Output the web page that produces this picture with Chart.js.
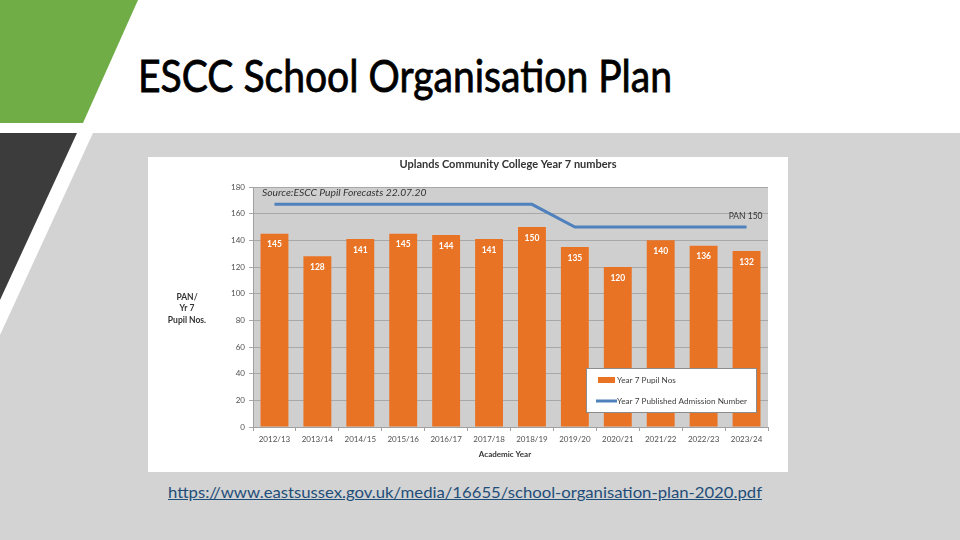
<!DOCTYPE html>
<html>
<head>
<meta charset="utf-8">
<script src="https://cdn.jsdelivr.net/npm/chart.js@4.4.1/dist/chart.umd.min.js"></script>
<style>
  html, body { margin: 0; padding: 0; }
  body { width: 960px; height: 540px; position: relative; overflow: hidden; background: #ffffff; font-family: Lato, "Open Sans", sans-serif; }
  #deco { position: absolute; left: 0; top: 0; }
  #title { position: absolute; left: 138px; top: 53px; font-size: 44px; line-height: 44px; color: #000; white-space: nowrap; transform-origin: 0 0; font-family: Lato, sans-serif; -webkit-text-stroke: 0.8px #000; }
  #chartbox { position: absolute; left: 148px; top: 157px; width: 640px; height: 315px; background: #ffffff; }
  #url { position: absolute; left: 168px; top: 483px; font-size: 15px; line-height: 18px; color: #1f4e79; text-decoration: underline; white-space: nowrap; transform-origin: 0 0; font-family: Lato, sans-serif; }
</style>
</head>
<body>
<svg id="deco" width="960" height="540">
  <polygon points="93,133 960,133 960,540 0,540 0,335" fill="#d3d3d3"/>
  <polygon points="0,0 138,0 83,123 0,123" fill="#70ad47"/>
  <polygon points="0,133 77,133 0,300" fill="#3c3c3c"/>
</svg>
<div id="title">ESCC School Organisation Plan</div>
<div id="chartbox"><canvas id="c" width="640" height="315"></canvas></div>
<div id="url">https://www.eastsussex.gov.uk/media/16655/school-organisation-plan-2020.pdf</div>
<script>
const years = ['2012/13','2013/14','2014/15','2015/16','2016/17','2017/18','2018/19','2019/20','2020/21','2021/22','2022/23','2023/24'];
const pupilNos = [145, 128, 141, 145, 144, 141, 150, 135, 120, 140, 136, 132];
const panValues = [167, 167, 167, 167, 167, 167, 167, 150, 150, 150, 150, 150];
const yTicks = [0, 20, 40, 60, 80, 100, 120, 140, 160, 180];
const seriesNames = ['Year 7 Pupil Nos', 'Year 7 Published Admission Number'];
const chartTitle = 'Uplands Community College Year 7 numbers';
const yTitleLines = ['PAN/', 'Yr 7', 'Pupil Nos.'];
const xTitle = 'Academic Year';
const sourceNote = 'Source:ESCC Pupil Forecasts 22.07.20';
const panNote = 'PAN 150';

function fitWidth(id, w) {
  const el = document.getElementById(id);
  const r = el.getBoundingClientRect().width;
  el.style.transform = 'scaleX(' + (w / r) + ')';
}
fitWidth('title', 534);
fitWidth('url', 594);

const FONT = 'Lato, "Open Sans", sans-serif';
const ORANGE = '#e97325';
const BLUE = '#4f81bd';

const decor = {
  id: 'decor',
  beforeDraw(chart) {
    const ctx = chart.ctx, a = chart.chartArea;
    ctx.save();
    ctx.fillStyle = '#cfcfcf';
    ctx.fillRect(a.left, a.top, a.right - a.left, a.bottom - a.top);
    ctx.restore();
  },
  afterDatasetsDraw(chart) {
    const ctx = chart.ctx, a = chart.chartArea;
    const xs = chart.scales.x, ys = chart.scales.y;
    ctx.save();
    // data labels on bars (dataset 1 = bars)
    ctx.fillStyle = '#ffffff';
    ctx.font = 'bold 8.5px ' + FONT;
    ctx.textAlign = 'center';
    ctx.textBaseline = 'middle';
    const meta = chart.getDatasetMeta(1);
    meta.data.forEach((bar, i) => {
      ctx.fillText(String(pupilNos[i]), bar.x, bar.y + 11);
    });
    // source note
    ctx.fillStyle = '#333333';
    ctx.font = 'italic 10.3px ' + FONT;
    ctx.textAlign = 'left';
    ctx.fillText(sourceNote, a.left + 9, a.top + 6);
    // PAN note
    ctx.font = '8.5px ' + FONT;
    ctx.textAlign = 'right';
    ctx.fillText(panNote, xs.getPixelForValue(11) + 16, ys.getPixelForValue(158));
    // titles
    ctx.fillStyle = '#333333';
    ctx.font = 'bold 11px ' + FONT;
    ctx.textAlign = 'center';
    ctx.fillText(chartTitle, 360, 7);
    ctx.font = 'bold 8.5px ' + FONT;
    yTitleLines.forEach((t, i) => ctx.fillText(t, 39, 140 + i * 11.5));
    ctx.font = 'bold 8px ' + FONT;
    ctx.fillText(xTitle, 357, 297);
    // legend
    const lx = 438, ly = 211, lw = 170, lh = 44;
    ctx.fillStyle = '#ffffff';
    ctx.fillRect(lx, ly, lw, lh);
    ctx.strokeStyle = '#8c8c8c';
    ctx.lineWidth = 1;
    ctx.strokeRect(lx + 0.5, ly + 0.5, lw, lh);
    ctx.fillStyle = ORANGE;
    ctx.fillRect(lx + 12, ly + 9, 17, 6);
    ctx.strokeStyle = BLUE;
    ctx.lineWidth = 3;
    ctx.beginPath();
    ctx.moveTo(lx + 10, ly + 33);
    ctx.lineTo(lx + 31, ly + 33);
    ctx.stroke();
    ctx.fillStyle = '#404040';
    ctx.font = '8.2px ' + FONT;
    ctx.textAlign = 'left';
    ctx.fillText(seriesNames[0], lx + 31, ly + 12);
    ctx.fillText(seriesNames[1], lx + 31, ly + 33);
    ctx.restore();
  }
};

new Chart(document.getElementById('c'), {
  data: {
    labels: years,
    datasets: [
      { type: 'line', label: seriesNames[1], data: panValues, borderColor: BLUE, borderWidth: 3, pointRadius: 0, tension: 0, fill: false, order: 0 },
      { type: 'bar', label: seriesNames[0], data: pupilNos, backgroundColor: ORANGE, borderWidth: 0, categoryPercentage: 1, barPercentage: 0.65, order: 1 }
    ]
  },
  options: {
    responsive: false,
    animation: false,
    layout: { padding: { top: 30, right: 20, left: 0, bottom: 0 } },
    plugins: { legend: { display: false }, tooltip: { enabled: false }, title: { display: false } },
    scales: {
      x: {
        offset: true,
        grid: { offset: true, drawOnChartArea: false, drawTicks: true, tickLength: 4, color: '#a0a0a0' },
        border: { display: true, color: '#a0a0a0' },
        ticks: { color: '#505050', font: { size: 8, family: FONT }, padding: 4, maxRotation: 0, autoSkip: false },
        afterFit(s) { s.height = 45; }
      },
      y: {
        min: 0, max: 180,
        afterBuildTicks(s) { s.ticks = yTicks.map(v => ({ value: v })); },
        grid: { color: '#a8a8a8', lineWidth: 1, tickLength: 4, drawTicks: true },
        border: { display: true, color: '#a0a0a0' },
        ticks: { color: '#505050', font: { size: 8, family: FONT }, padding: 4 },
        afterFit(s) { s.width = 105; }
      }
    }
  },
  plugins: [decor]
});
</script>
</body>
</html>
